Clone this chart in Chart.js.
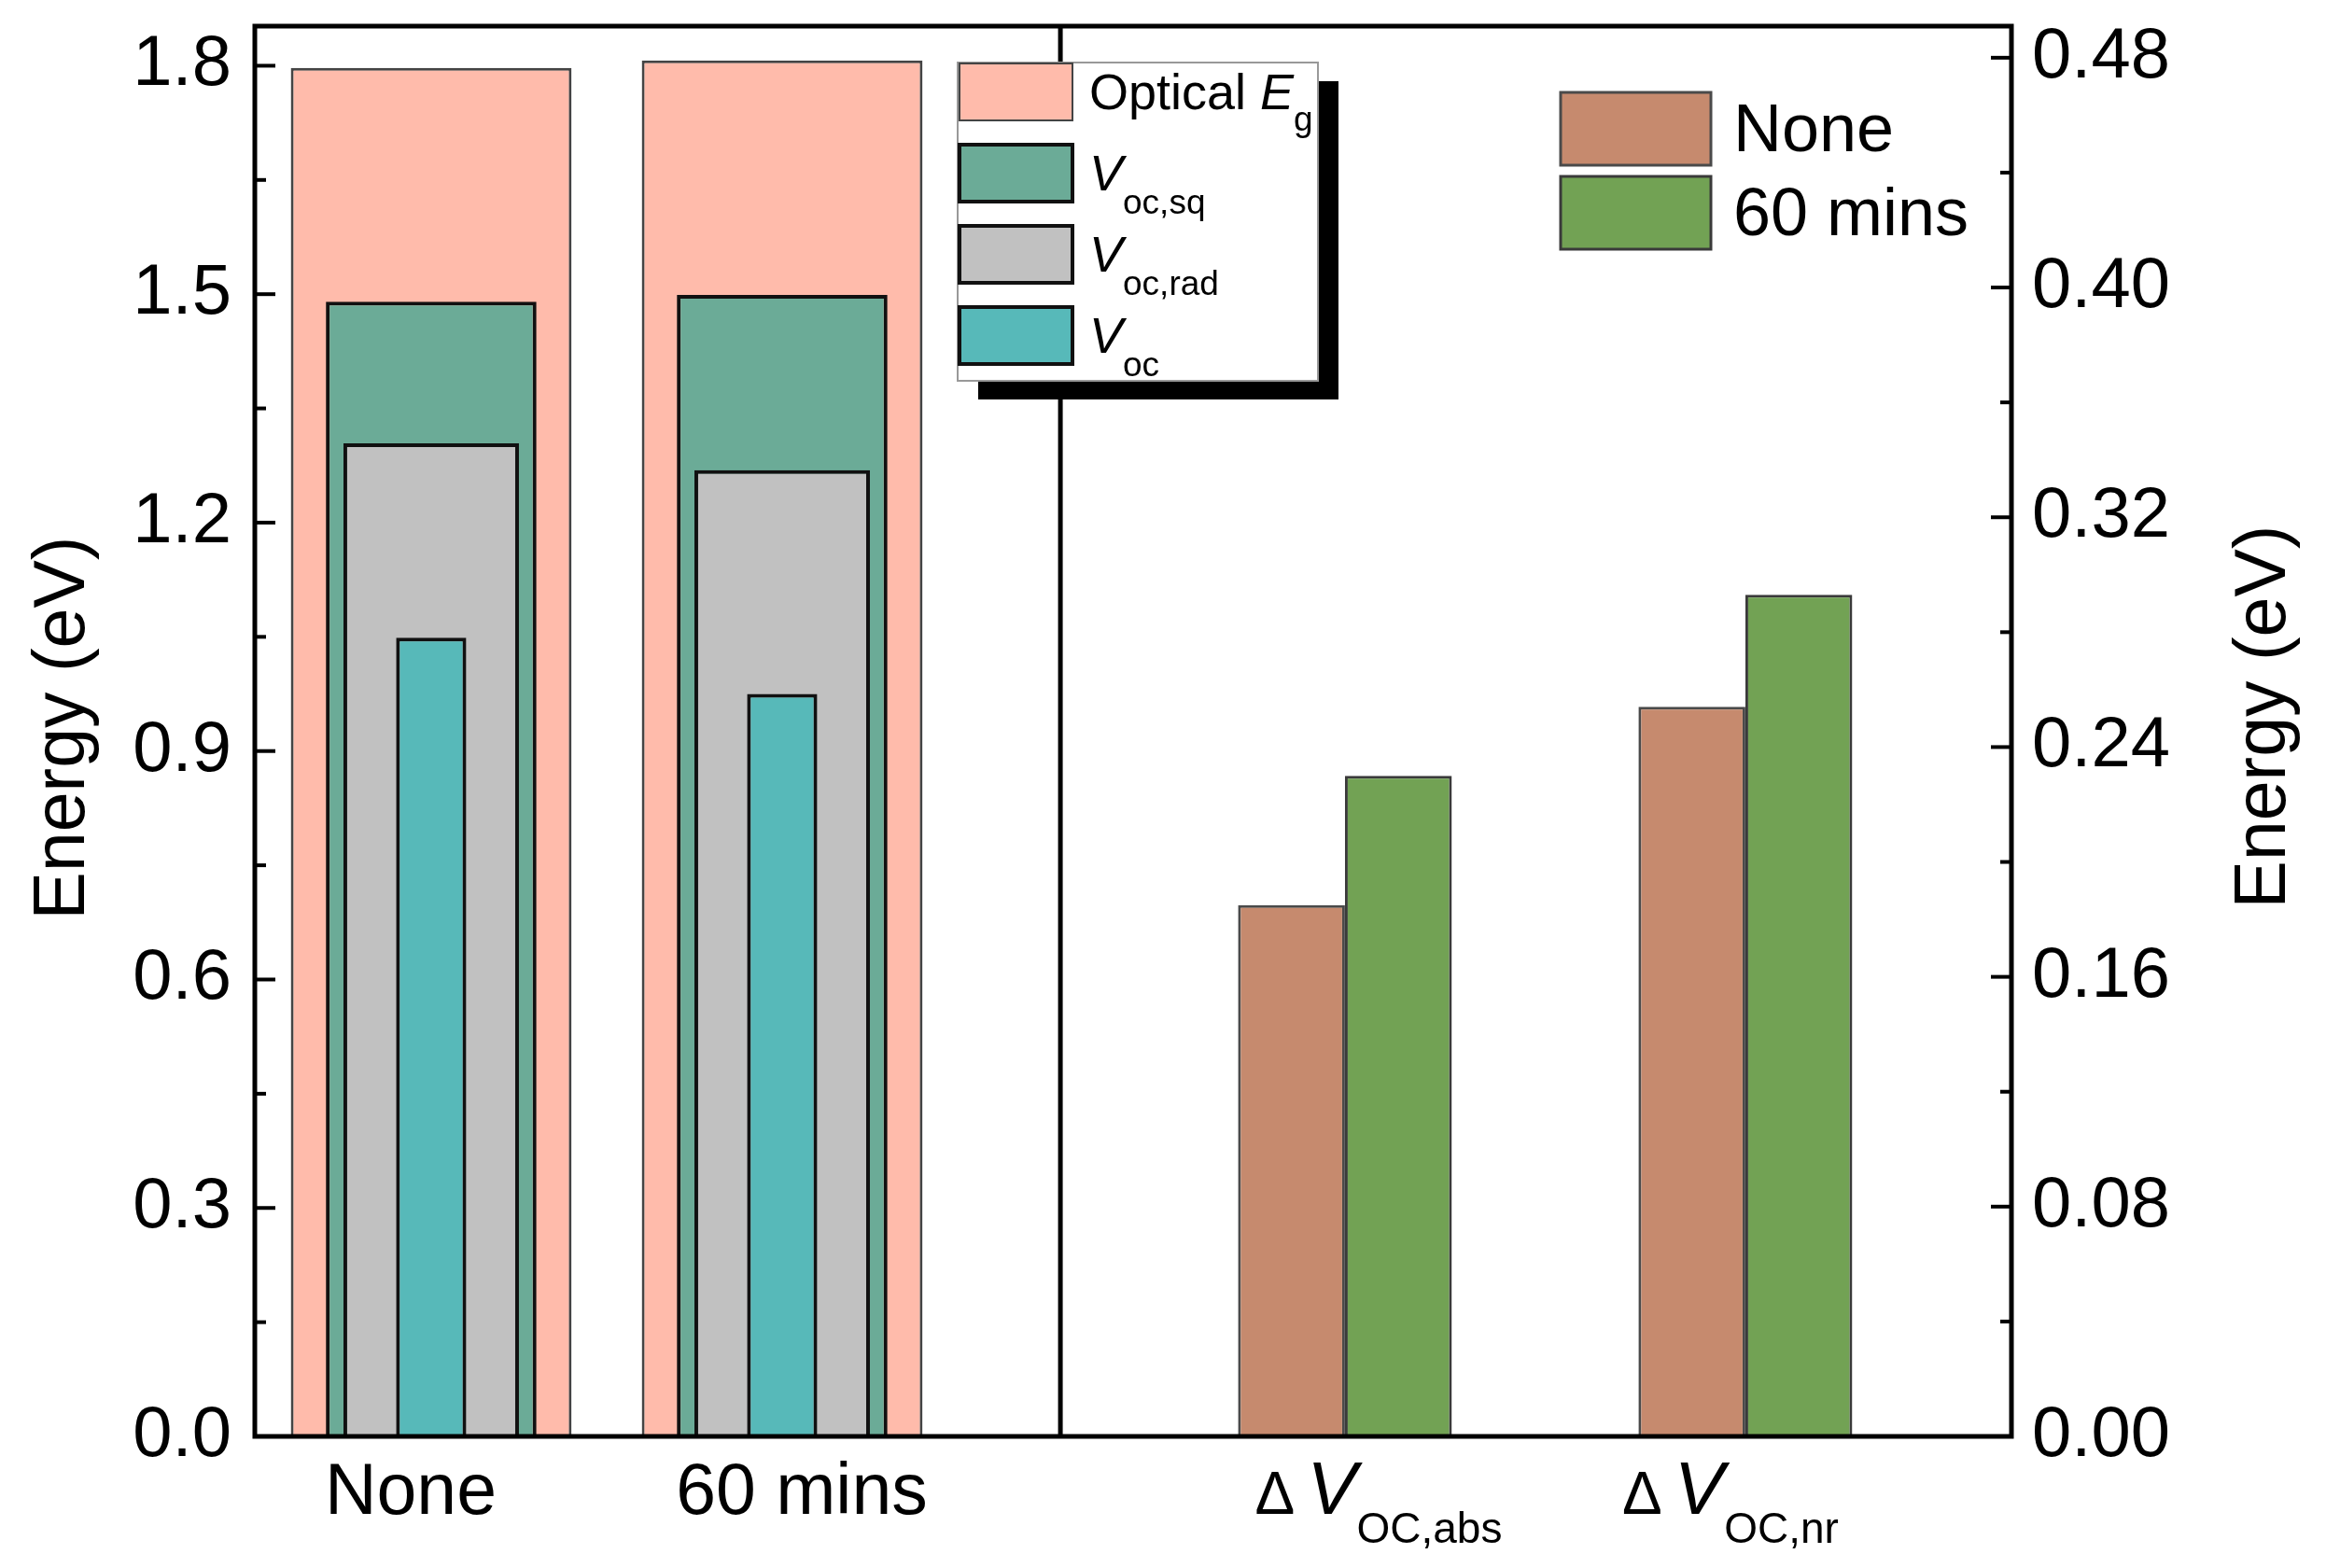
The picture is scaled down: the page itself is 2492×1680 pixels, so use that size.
<!DOCTYPE html>
<html>
<head>
<meta charset="utf-8">
<title>Energy</title>
<script src="https://cdn.jsdelivr.net/npm/chart.js@4.4.1/dist/chart.umd.min.js"></script>
<style>
  html, body { margin: 0; padding: 0; background: #fff; }
  canvas { display: block; }
</style>
</head>
<body>
<canvas id="chart" width="2492" height="1680"></canvas>
<script>
// left panel (left axis, eV)
const treatments = ['None', '60 mins'];
const opticalEg = [1.797, 1.807];
const vocSq = [1.490, 1.499];
const vocRad = [1.304, 1.269];
const voc = [1.049, 0.975];

// right panel (right axis, eV)
const lossLabels = ['ΔV_OC,abs', 'ΔV_OC,nr'];
const lossNone = [0.185, 0.254];
const loss60 = [0.230, 0.293];

const leftTicks = [0, 0.3, 0.6, 0.9, 1.2, 1.5, 1.8];
const rightTicks = [0, 0.08, 0.16, 0.24, 0.32, 0.40, 0.48];
const leftMax = 1.852;
const rightMax = 0.491;

// layout, not data
const FONT = '"Liberation Sans", Arial, Helvetica, sans-serif';
const LEFT_SPAN = [0.0005, 0.4001];
const RIGHT_SPAN = [0.5066, 0.9625];
const DIVIDER = 0.4586;
const LEFT_NUDGE = [-22, 21];
const RIGHT_NUDGE = [36, -16];

function minors(ticks, max) {
	let out = [];
	for (let i = 0; i < ticks.length; i++) {
		let step = ticks[1] - ticks[0];
		let v = ticks[i] + step / 2;
		if (v < max) out.push(v);
	}
	return out;
}

// label like 'ΔV_OC,abs': last char before '_' italic, rest after '_' as subscript
function drawRich(ctx, label, x, y, o) {
	let [main, sub] = label.split('_');
	let parts = [];
	let head = main.slice(0, -1);
	if (head) parts.push({t: head, f: (o.headSize || o.size) + 'px ' + FONT, dy: 0, gap: o.gap || 0});
	parts.push({t: main.slice(-1), f: 'italic ' + o.size + 'px ' + FONT, dy: 0, gap: 0});
	if (sub) parts.push({t: sub, f: o.subSize + 'px ' + FONT, dy: o.subDy, gap: 0});
	let total = 0;
	parts.forEach(p => { ctx.font = p.f; p.w = ctx.measureText(p.t).width; total += p.w + p.gap; });
	let cx = o.center ? x - total / 2 : x;
	ctx.textAlign = 'left';
	ctx.textBaseline = 'alphabetic';
	parts.forEach(p => { ctx.font = p.f; ctx.fillText(p.t, cx, y + p.dy); cx += p.w + p.gap; });
}

function hline(ctx, x1, y1, x2, y2) {
	ctx.beginPath();
	ctx.moveTo(x1, y1);
	ctx.lineTo(x2, y2);
	ctx.stroke();
}

const decor = {
	id: 'decor',
	afterLayout(chart) {
		const a = chart.chartArea, w = a.right - a.left;
		[['xl', LEFT_SPAN], ['xr', RIGHT_SPAN]].forEach(([id, span]) => {
			const s = chart.scales[id];
			s.left = a.left + span[0] * w;
			s.right = a.left + span[1] * w;
			s.width = s.right - s.left;
			s.configure();
		});
	},
	afterDraw(chart) {
		const ctx = chart.ctx, a = chart.chartArea;
		const yl = chart.scales.y, yr = chart.scales.y2;
		const xl = chart.scales.xl, xr = chart.scales.xr;
		const ds = chart.data.datasets;
		ctx.save();
		ctx.fillStyle = '#000';
		ctx.strokeStyle = '#000';

		// frame and divider
		ctx.lineWidth = 5;
		ctx.strokeRect(a.left, a.top, a.right - a.left, a.bottom - a.top);
		const dx = a.left + DIVIDER * (a.right - a.left);
		hline(ctx, dx, a.top, dx, a.bottom);

		// inward ticks
		ctx.lineWidth = 4;
		leftTicks.forEach(v => { let y = yl.getPixelForValue(v); hline(ctx, a.left, y, a.left + 22, y); });
		minors(leftTicks, leftMax).forEach(v => { let y = yl.getPixelForValue(v); hline(ctx, a.left, y, a.left + 12, y); });
		rightTicks.forEach(v => { let y = yr.getPixelForValue(v); hline(ctx, a.right, y, a.right - 22, y); });
		minors(rightTicks, rightMax).forEach(v => { let y = yr.getPixelForValue(v); hline(ctx, a.right, y, a.right - 12, y); });

		// category labels
		const base = a.bottom + 83;
		ctx.font = '77px ' + FONT;
		ctx.textAlign = 'center';
		ctx.textBaseline = 'alphabetic';
		treatments.forEach((t, i) => ctx.fillText(t, xl.getPixelForValue(i) + LEFT_NUDGE[i], base));
		lossLabels.forEach((t, i) => drawRich(ctx, t, xr.getPixelForValue(i) + RIGHT_NUDGE[i], base,
			{size: 80, headSize: 64, gap: 13, subSize: 46, subDy: 31, center: true}));

		// axis titles
		ctx.font = '77px ' + FONT;
		ctx.textAlign = 'center';
		[[90, 780], [2448, 768]].forEach(([x, y]) => {
			ctx.save();
			ctx.translate(x, y);
			ctx.rotate(-Math.PI / 2);
			ctx.fillText('Energy (eV)', 0, 0);
			ctx.restore();
		});

		// left legend with shadow
		const lx = 1026, ly = 67, lw = 386, lh = 341;
		ctx.fillStyle = '#000';
		ctx.fillRect(lx + 22, ly + 20, lw, lh);
		ctx.fillStyle = '#fff';
		ctx.fillRect(lx, ly, lw, lh);
		ctx.lineWidth = 2;
		ctx.strokeStyle = '#999';
		ctx.strokeRect(lx, ly, lw, lh);
		for (let i = 0; i < 4; i++) {
			const d = ds[i], top = ly + 1 + i * 87;
			ctx.fillStyle = d.backgroundColor;
			ctx.fillRect(lx + 2, top, 121, 61);
			ctx.lineWidth = i == 0 ? 2 : 4;
			ctx.strokeStyle = d.borderColor;
			ctx.strokeRect(lx + 2, top, 121, 61);
			ctx.fillStyle = '#000';
			drawRich(ctx, d.label, lx + 141, top + 49, {size: 54, subSize: 37, subDy: i == 0 ? 23 : 25});
		}

		// right legend
		for (let i = 4; i < 6; i++) {
			const d = ds[i], top = 99 + (i - 4) * 90;
			ctx.fillStyle = d.backgroundColor;
			ctx.fillRect(1672, top, 161, 78);
			ctx.lineWidth = 3;
			ctx.strokeStyle = d.borderColor;
			ctx.strokeRect(1672, top, 161, 78);
			ctx.fillStyle = '#000';
			ctx.font = '72px ' + FONT;
			ctx.textAlign = 'left';
			ctx.fillText(d.label, 1857, top + 63);
		}
		ctx.restore();
	}
};

const leftSets = [
	{label: 'Optical E_g', data: opticalEg, backgroundColor: '#FFBBAB', borderColor: '#444444', borderWidth: 3, barPercentage: 0.8, order: 4},
	{label: 'V_oc,sq', data: vocSq, backgroundColor: '#6BAB97', borderColor: '#111111', borderWidth: 4, barPercentage: 0.6, order: 3},
	{label: 'V_oc,rad', data: vocRad, backgroundColor: '#C1C1C1', borderColor: '#111111', borderWidth: 4, barPercentage: 0.5, order: 2},
	{label: 'V_oc', data: voc, backgroundColor: '#57B9B9', borderColor: '#111111', borderWidth: 4, barPercentage: 0.2, order: 1}
].map(d => Object.assign({xAxisID: 'xl', yAxisID: 'y', grouped: false, categoryPercentage: 1}, d));

const rightSets = [
	{label: 'None', data: lossNone, backgroundColor: '#C68A6E', borderColor: '#4a4a4a'},
	{label: '60 mins', data: loss60, backgroundColor: '#72A254', borderColor: '#3a3a3a'}
].map(d => Object.assign({xAxisID: 'xr', yAxisID: 'y2', borderWidth: 3, categoryPercentage: 1.068, barPercentage: 1, order: 0}, d));

function yAxis(pos, max, ticks, width, pad, digits) {
	return {
		type: 'linear',
		position: pos,
		min: 0,
		max: max,
		afterFit: s => { s.width = width; s.paddingTop = 0; s.paddingBottom = 0; },
		afterBuildTicks: s => { s.ticks = ticks.map(v => ({value: v})); },
		grid: {display: false, drawTicks: false},
		border: {display: false},
		ticks: {
			padding: pad,
			color: '#000',
			font: {family: FONT, size: 76},
			callback: v => Number(v).toFixed(digits)
		}
	};
}

new Chart(document.querySelector('#chart'), {
	type: 'bar',
	data: {datasets: leftSets.concat(rightSets)},
	options: {
		responsive: false,
		animation: false,
		events: [],
		layout: {padding: {top: 28, bottom: 141, left: 0, right: 0}},
		plugins: {legend: {display: false}, tooltip: {enabled: false}},
		scales: {
			xl: {type: 'category', labels: treatments, display: false, offset: true},
			xr: {type: 'category', labels: lossLabels, display: false, offset: true},
			y: yAxis('left', leftMax, leftTicks, 273, 25, 1),
			y2: yAxis('right', rightMax, rightTicks, 337, 22, 2)
		}
	},
	plugins: [decor]
});
</script>
</body>
</html>
